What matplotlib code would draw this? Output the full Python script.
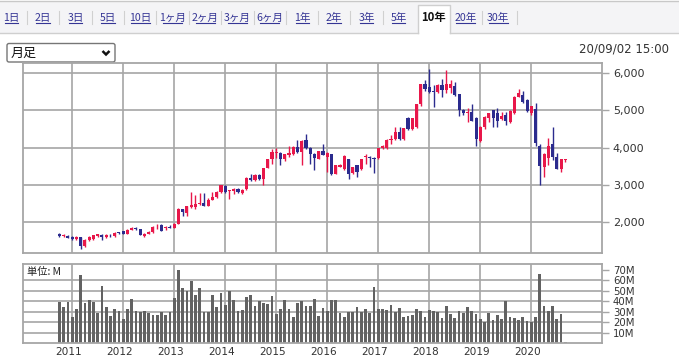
import matplotlib

matplotlib.use("Agg")
import matplotlib.pyplot as plt  # noqa: E402
from matplotlib.patches import FancyBboxPatch, Rectangle  # noqa: E402
import pandas as pd  # noqa: E402

# monthly candles, Oct 2010 .. Sep 2020
months = pd.date_range("2010-10-01", periods=120, freq="MS")

opens = [1684, 1640, 1640, 1615, 1560, 1600, 1360, 1520, 1560, 1640,
         1670, 1610, 1670, 1640, 1740, 1760, 1700, 1800, 1860, 1810,
         1630, 1700, 1730, 1870, 1930, 1860, 1870, 1860, 1960, 2350,
         2260, 2400, 2400, 2480, 2530, 2450, 2600, 2680, 2800, 2980,
         2850, 2840, 2900, 2790, 2880, 3190, 3120, 3270, 3160, 3460,
         3690, 3860, 3860, 3680, 3790, 3820, 4010, 3870, 4190, 3990,
         3840, 3700, 3910, 3740, 3830, 3300, 3480, 3430, 3690, 3310,
         3520, 3430, 3750, 3760, 3730, 3710, 3980, 4000, 4200, 4220,
         4420, 4230, 4800, 4500, 4540, 5160, 5690, 5630, 5500, 5470,
         5670, 5540, 5600, 5650, 5430, 5000, 4930, 4960, 4800, 4180,
         4540, 4790, 5000, 4920, 4760, 4880, 4670, 4920, 5360, 5400,
         5270, 4920, 5040, 4030, 3470, 3710, 4090, 3760, 3430, 3660]
highs = [1710, 1690, 1660, 1630, 1640, 1610, 1560, 1640, 1670, 1700,
         1690, 1700, 1700, 1740, 1750, 1770, 1820, 1870, 1880, 1820,
         1720, 1760, 1900, 1950, 1950, 1900, 1920, 1990, 2380, 2370,
         2450, 2800, 2740, 2790, 2780, 2640, 2800, 2830, 3010, 3010,
         2870, 2910, 2920, 2880, 3200, 3290, 3290, 3290, 3450, 3700,
         3960, 3980, 3880, 3840, 4030, 4040, 4190, 4200, 4350, 4010,
         3850, 3920, 4090, 3870, 3840, 3540, 3560, 3800, 3700, 3480,
         3530, 3700, 3830, 3770, 3740, 4000, 4070, 4220, 4340, 4540,
         4540, 4520, 4820, 4800, 5170, 5700, 5800, 6090, 5680, 5700,
         5830, 6080, 5800, 5750, 5440, 5020, 5060, 5160, 4810, 4580,
         4830, 4930, 5010, 5060, 4960, 4960, 5000, 5380, 5560, 5520,
         5290, 5110, 5180, 4100, 3850, 4260, 4560, 3860, 3700, 3700]
lows = [1600, 1600, 1570, 1530, 1520, 1300, 1340, 1500, 1540, 1620,
        1540, 1590, 1610, 1620, 1700, 1690, 1690, 1790, 1800, 1650,
        1600, 1690, 1720, 1830, 1770, 1800, 1850, 1850, 1950, 2170,
        2160, 2380, 2370, 2460, 2430, 2430, 2590, 2660, 2790, 2790,
        2630, 2770, 2790, 2770, 2870, 3100, 3100, 3120, 3000, 3440,
        3560, 3710, 3520, 3640, 3760, 3790, 3860, 3530, 3970, 3560,
        3390, 3680, 3790, 3350, 3270, 3280, 3470, 3410, 3150, 3290,
        3200, 3410, 3570, 3480, 3320, 3700, 3960, 3960, 4100, 4200,
        4200, 4210, 4480, 4480, 4520, 5120, 5500, 5460, 5070, 5460,
        5350, 5460, 5450, 5380, 4830, 4870, 4670, 4700, 4050, 4150,
        4500, 4680, 4540, 4560, 4740, 4600, 4650, 4900, 5340, 5200,
        4960, 4870, 4050, 2990, 3220, 3540, 3660, 3420, 3340, 3620]
closes = [1623, 1650, 1580, 1545, 1600, 1360, 1540, 1610, 1650, 1680,
          1610, 1670, 1650, 1720, 1710, 1700, 1800, 1850, 1810, 1670,
          1700, 1750, 1880, 1880, 1780, 1870, 1860, 1960, 2350, 2270,
          2440, 2460, 2500, 2530, 2450, 2610, 2680, 2800, 2990, 2810,
          2860, 2900, 2800, 2870, 3190, 3120, 3270, 3160, 3440, 3690,
          3880, 3880, 3680, 3820, 3850, 4020, 3880, 4170, 3990, 3820,
          3730, 3900, 3800, 3850, 3290, 3520, 3530, 3780, 3290, 3470,
          3350, 3680, 3770, 3710, 3700, 3990, 4050, 4200, 4220, 4420,
          4230, 4510, 4500, 4790, 5160, 5690, 5560, 5470, 5480, 5680,
          5540, 5690, 5690, 5400, 5000, 4920, 4950, 4720, 4240, 4560,
          4810, 4920, 4800, 4720, 4840, 4720, 4980, 5360, 5450, 5220,
          4980, 5100, 4130, 3500, 3830, 4050, 3760, 3430, 3690, 3690]
# volume in millions
volumes = [39.5, 34.4, 39.2, 25, 32.5, 65, 38.2, 41, 39.2, 29,
           54.3, 34.4, 26, 32.5, 30.6, 23, 32.5, 42, 30.6, 29.7,
           30.6, 28.8, 26.9, 26.9, 29.7, 26.9, 29.7, 43, 70, 52.4,
           50.2, 59.7, 45.8, 52.4, 29.7, 29.7, 45.8, 34.4, 47.7, 36.3,
           50.2, 41, 30.6, 31.6, 43.9, 45.8, 35.4, 40.1, 38.2, 37.3,
           44.9, 27.8, 32.5, 41, 32.5, 25, 38.2, 40.1, 35.4, 35.4,
           42, 26, 33.5, 30.6, 41, 41, 28.8, 25, 29.7, 29.7,
           34.4, 29.7, 32.5, 29, 53.4, 32.5, 32.5, 31.6, 36.3, 29.7,
           33.5, 25, 26, 26.9, 32.5, 30.6, 25, 31.6, 30.6, 29.7,
           24, 35.4, 27.8, 24, 30.6, 28.8, 34.4, 30.6, 27.8, 23,
           20.2, 28.8, 22.1, 26.9, 23, 40.1, 25, 24, 22.1, 25,
           21.2, 20.2, 25, 65.7, 35.4, 30.6, 35.4, 23, 27.8, 1.3]

years = list(range(2011, 2021))
price_ticks = [2000, 3000, 4000, 5000, 6000]
vol_ticks = [10, 20, 30, 40, 50, 60, 70]
vol_grid = [10, 20, 30, 40, 50, 60]

tab_labels = ["1日", "2日", "3日", "5日", "10日", "1ヶ月", "2ヶ月", "3ヶ月", "6ヶ月",
              "1年", "2年", "3年", "5年", "10年", "20年", "30年"]
selected_tab = "10年"
period_label = "月足"
stamp = "20/09/02 15:00"
unit_label = "単位: M"

W, H = 679, 357
RED = "#e8174a"
BLUE = "#2b2b8e"
GRID = "#a6a6a6"
JP = ["Noto Sans CJK JP", "DejaVu Sans"]


def px_axes(fig, left, top, right, bottom):
    return fig.add_axes([left / W, 1 - bottom / H, (right - left) / W, (bottom - top) / H])


def draw_ui(fig):
    ui = fig.add_axes([0, 0, 1, 1], zorder=0)
    ui.set_xlim(0, W)
    ui.set_ylim(H, 0)
    ui.axis("off")

    # tab strip
    ui.add_patch(Rectangle((0, 1), W, 31.5, facecolor="#f4f4f6", edgecolor="none"))
    ui.plot([0, W], [1, 1], color="#c8c8c8", lw=1)
    centers = [11.5, 43, 75.5, 108, 140, 172.5, 205, 237.5, 269.5,
               302.5, 334, 366.5, 398.5, 434, 465.5, 498]
    sel = tab_labels.index(selected_tab)
    tab_l, tab_r = 418, 450
    ui.add_patch(Rectangle((tab_l, 5), tab_r - tab_l, 28, facecolor="white",
                           edgecolor="none", zorder=2))
    ui.plot([tab_l, tab_l, tab_r, tab_r], [33, 5, 5, 33], color="#cfcfcf", lw=1, zorder=3)
    ui.plot([0, tab_l], [32.5, 32.5], color="#cfcfcf", lw=1)
    ui.plot([tab_r, W], [32.5, 32.5], color="#cfcfcf", lw=1)
    for k, (lab, cx) in enumerate(zip(tab_labels, centers)):
        if k == sel:
            ui.text(cx, 18, lab, ha="center", va="center", fontsize=8.2,
                    fontweight="bold", color="#111111", family=JP, zorder=4)
            continue
        t = ui.text(cx, 17.5, lab, ha="center", va="center", fontsize=7.6,
                    color="#353595", family=JP)
        half = 3.3 * len(lab) if len(lab) < 3 else 9.5
        ui.plot([cx - half, cx + half], [23.2, 23.2], color="#353595", lw=0.8)
        if k + 1 < len(centers) and k + 1 != sel and k != sel - 1:
            sx = (cx + centers[k + 1]) / 2
            ui.plot([sx, sx], [11, 24], color="#d0d0d0", lw=0.8)
    ui.plot([517, 517], [11, 24], color="#d0d0d0", lw=0.8)

    # period selector
    ui.add_patch(FancyBboxPatch((7, 43.5), 108, 18.5,
                                boxstyle="round,pad=0,rounding_size=2",
                                facecolor="white", edgecolor="#767676", lw=1))
    ui.text(10.5, 53, period_label, ha="left", va="center", fontsize=9.4,
            color="#111111", family=JP)
    ui.plot([102.5, 106, 109.5], [51, 54.5, 51], color="#111111", lw=1.8,
            solid_capstyle="butt", solid_joinstyle="miter")

    ui.text(669, 48.5, stamp, ha="right", va="center", fontsize=8.5, color="#333333")


def main():
    fig = plt.figure(figsize=(W / 100, H / 100), dpi=100)
    fig.patch.set_facecolor("white")
    draw_ui(fig)

    xs = [d.year + (d.month - 1) / 12 for d in months]
    xlim = (2010.03, 2021.38)

    ax = px_axes(fig, 22.7, 63.3, 601.7, 252.7)
    ax.set_zorder(1)
    ax.set_xlim(*xlim)
    ax.set_ylim(1190, 6250)
    for yr in years:
        ax.axvline(yr, color=GRID, lw=1.2, zorder=0)
    for p in price_ticks:
        ax.axhline(p, color=GRID, lw=1.2, zorder=0)
    colors = [RED if c >= o else BLUE for o, c in zip(opens, closes)]
    ax.vlines(xs, lows, highs, colors=colors, lw=1.0, zorder=2)
    bottoms = [min(o, c) for o, c in zip(opens, closes)]
    heights = [max(abs(c - o), 12) for o, c in zip(opens, closes)]
    ax.bar(xs, heights, bottom=bottoms, width=0.06, color=colors, lw=0, zorder=3)
    ax.set_xticks([])
    ax.yaxis.tick_right()
    ax.set_yticks(price_ticks)
    ax.set_yticklabels([f"{p:,}" for p in price_ticks])
    ax.tick_params(axis="y", length=5, width=1, color=GRID, pad=3,
                   labelsize=8, labelcolor="#333333")
    for s in ax.spines.values():
        s.set_color(GRID)
        s.set_linewidth(1.3)

    av = px_axes(fig, 22.7, 264.3, 601.7, 343.3)
    av.set_zorder(1)
    av.set_xlim(*xlim)
    av.set_ylim(0, 75.2)
    for yr in years:
        av.axvline(yr, color=GRID, lw=1.2, zorder=0)
    for v in vol_grid:
        av.axhline(v, color=GRID, lw=1.2, zorder=0)
    av.bar(xs, volumes, width=0.053, color="#626262", lw=0, zorder=2)
    av.yaxis.tick_right()
    av.set_yticks(vol_ticks)
    av.set_yticklabels([f"{v}M" for v in vol_ticks])
    av.tick_params(axis="y", length=5, width=1, color=GRID, pad=3,
                   labelsize=7.3, labelcolor="#333333")
    av.set_xticks([y - 0.07 for y in years])
    av.set_xticklabels([str(y) for y in years])
    av.tick_params(axis="x", length=0, pad=3, labelsize=7.6, labelcolor="#333333")
    for lab in av.get_xticklabels():
        lab.set_family(["Liberation Sans Narrow", "DejaVu Sans"])
    for s in av.spines.values():
        s.set_color(GRID)
        s.set_linewidth(1.3)
    av.text(0.008, 0.9, unit_label, transform=av.transAxes, ha="left", va="center",
            fontsize=7.4, color="#222222", family=JP, zorder=4,
            bbox=dict(facecolor="white", edgecolor="none", pad=0.5))

    fig.savefig("out.png", dpi=100)
    plt.close(fig)


if __name__ == "__main__":
    main()
